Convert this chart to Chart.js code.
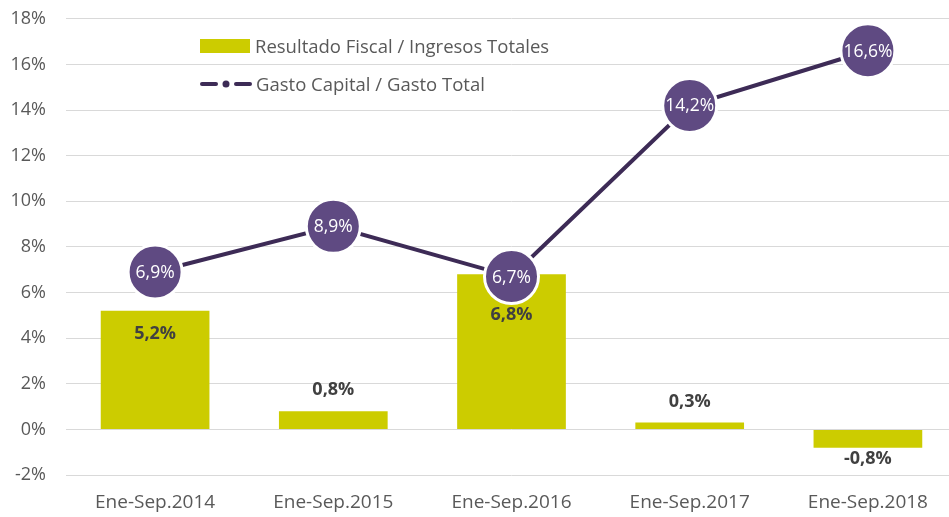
<!DOCTYPE html>
<html>
<head>
<meta charset="utf-8">
<script src="https://cdn.jsdelivr.net/npm/chart.js@4/dist/chart.umd.min.js"></script>
<style>
  html, body { margin: 0; padding: 0; background: #fff; overflow: hidden; }
  #wrap { position: relative; width: 957px; height: 517px; overflow: hidden; }
  /* the big point circles make chart.js reserve 30px on top, so the canvas is pulled up */
  #myChart { position: absolute; left: 0; top: -12px; }
  .legend { position: absolute; left: 200px; font-family: 'Open Sans', sans-serif; font-size: 18.5px; color: #595959; display: flex; align-items: center; }
  .legend .box { width: 50px; height: 14px; background: #cccc00; margin-right: 5px; }
  .legend svg { margin-right: 4px; }
</style>
</head>
<body>
<div id="wrap">
  <canvas id="myChart" width="957" height="529"></canvas>
  <div class="legend" style="top:33px"><div class="box"></div>Resultado Fiscal / Ingresos Totales</div>
  <div class="legend" style="top:71px">
    <svg width="52" height="14"><line x1="2" y1="7" x2="16" y2="7" stroke="#3d2b56" stroke-width="4" stroke-linecap="round"/><circle cx="26" cy="7" r="3.5" fill="#3d2b56"/><line x1="36" y1="7" x2="50" y2="7" stroke="#3d2b56" stroke-width="4" stroke-linecap="round"/></svg>Gasto Capital / Gasto Total
  </div>
</div>
<script>
var periods = [ 'Ene-Sep.2014', 'Ene-Sep.2015', 'Ene-Sep.2016', 'Ene-Sep.2017', 'Ene-Sep.2018' ];
var resultadoFiscal = [ 5.2, 0.8, 6.8, 0.3, -0.8 ];
var gastoCapital = [ 6.9, 8.9, 6.7, 14.2, 16.6 ];

function pct(v) {
  return v.toFixed(1).replace('.', ',') + '%';
}

// draws the value labels on bars and points
var valueLabels = {
  id : 'valueLabels',
  afterDatasetsDraw : function(chart) {
    var ctx = chart.ctx;
    ctx.save();
    ctx.textAlign = 'center';
    ctx.textBaseline = 'middle';

    var bars = chart.getDatasetMeta(0).data;
    ctx.font = 'bold 18px "Open Sans"';
    ctx.fillStyle = '#404040';
    bars.forEach(function(bar, i) {
      var v = resultadoFiscal[i];
      var y;
      if (v < 0) {
        y = bar.y + 11;
      } else if (v > 3) {
        y = bar.y + (i == 2 ? 41 : 23);
      } else {
        y = bar.y - 21;
      }
      ctx.fillText(pct(v), bar.x, y);
    });

    var pts = chart.getDatasetMeta(1).data;
    ctx.font = '17.5px "Open Sans"';
    ctx.fillStyle = '#ffffff';
    pts.forEach(function(p, i) {
      ctx.fillText(pct(gastoCapital[i]), p.x, p.y + 1);
    });
    ctx.restore();
  }
};

var ctx = document.getElementById('myChart');

var chart = new Chart(ctx, {
  type : 'bar',
  data : {
    labels : periods,
    datasets : [ {
      type : 'bar',
      label : 'Resultado Fiscal / Ingresos Totales',
      data : resultadoFiscal,
      backgroundColor : '#cccc00',
      categoryPercentage : 1,
      barPercentage : 0.61,
      order : 2
    }, {
      type : 'line',
      label : 'Gasto Capital / Gasto Total',
      data : gastoCapital,
      borderColor : '#3d2b56',
      borderWidth : 4,
      pointRadius : 27,
      pointBackgroundColor : '#5f4a82',
      pointBorderColor : '#ffffff',
      pointBorderWidth : 3,
      clip : false,
      order : 1
    } ]
  },
  options : {
    responsive : false,
    animation : false,
    layout : { autoPadding : false, padding : 0 },
    plugins : {
      legend : { display : false },
      tooltip : { enabled : false }
    },
    scales : {
      x : {
        grid : { display : false },
        border : { display : false },
        ticks : { color : '#595959', font : { family : 'Open Sans', size : 19 }, padding : 8 },
        afterFit : function(scale) { scale.height = 42; }
      },
      y : {
        min : -2,
        max : 18,
        ticks : {
          stepSize : 2,
          color : '#595959',
          font : { family : 'Open Sans', size : 18 },
          padding : 20,
          callback : function(v) { return v + '%'; }
        },
        grid : { color : '#d9d9d9', lineWidth : 1, drawTicks : false },
        border : { display : false },
        afterFit : function(scale) { scale.width = 66; }
      }
    }
  },
  plugins : [ valueLabels ]
});
</script>
</body>
</html>
